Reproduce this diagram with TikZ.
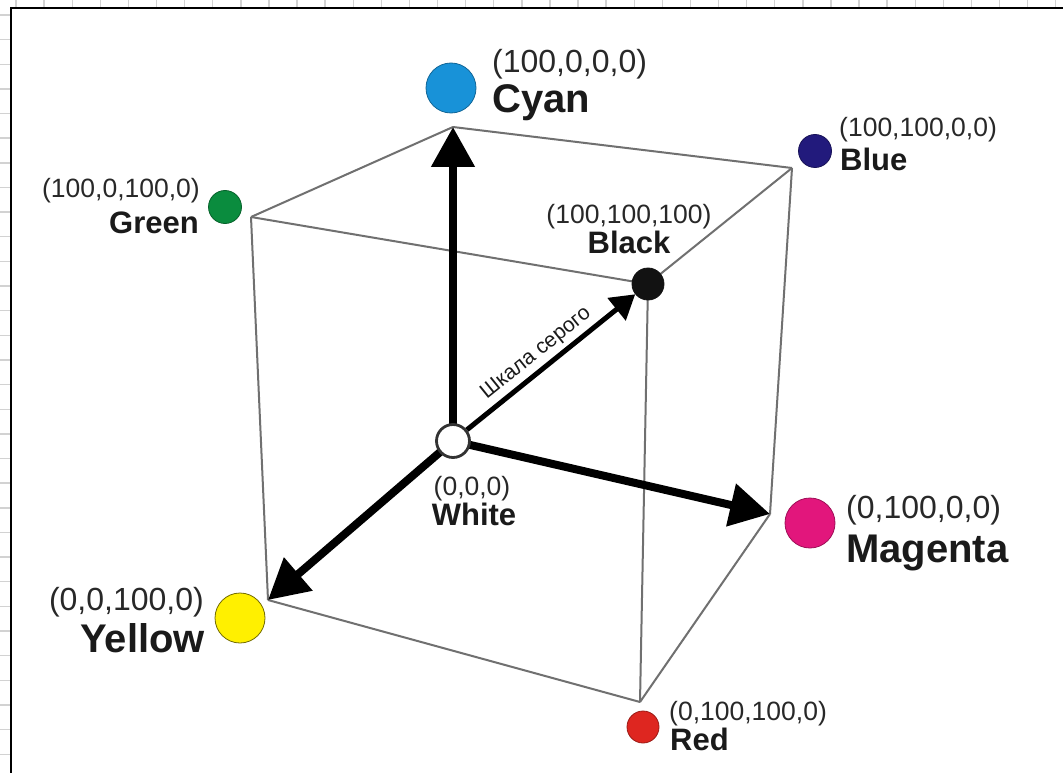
\documentclass[tikz,border=0pt]{standalone}
\usepackage{fontspec}
\setmainfont{Liberation Sans}
\usetikzlibrary{arrows.meta}
\pgfdeclarelayer{bg}
\pgfsetlayers{bg,main}

\definecolor{cyanC}{RGB}{24,146,216}
\definecolor{greenC}{RGB}{10,140,62}
\definecolor{blueC}{RGB}{34,26,124}
\definecolor{blackC}{RGB}{18,18,18}
\definecolor{yellowC}{RGB}{255,240,0}
\definecolor{magentaC}{RGB}{226,22,124}
\definecolor{redC}{RGB}{222,38,32}
\definecolor{edgegray}{RGB}{112,112,112}
\definecolor{gridgray}{RGB}{210,210,210}
\definecolor{txtdark}{RGB}{26,26,26}
\definecolor{txtcoord}{RGB}{40,40,40}

\tikzset{
  gridline/.style={draw=gridgray, line width=1.4pt},
  frameline/.style={draw=black, line width=2.5pt},
  cubeedge/.style={draw=edgegray, line width=2pt},
  bigarrow/.style={draw=black, line width=8pt,
    -{Triangle[length=40pt, width=42pt]}},
  grayarrow/.style={draw=black, line width=5pt,
    -{Triangle[length=24pt, width=28pt]}},
  dot/.style={circle, inner sep=0pt, line width=0.8pt},
  bigcrd/.style={inner sep=0pt, text=txtcoord, font=\fontsize{32}{34}\selectfont},
  bigname/.style={inner sep=0pt, text=txtdark, font=\fontsize{40}{42}\selectfont\bfseries},
  smcrd/.style={inner sep=0pt, text=txtcoord, font=\fontsize{26.5}{28}\selectfont},
  smname/.style={inner sep=0pt, text=txtdark, font=\fontsize{31}{33}\selectfont\bfseries},
  scalelabel/.style={sloped, above=4pt, inner sep=0pt, text=txtdark,
    font=\fontsize{21}{22}\selectfont},
}

\begin{document}
\begin{tikzpicture}[x=1pt, y=-1pt]
\useasboundingbox (0,0) rectangle (1063,773);

% sheet with a light grid, and the framed drawing area on it
\begin{pgfonlayer}{bg}
\begin{scope}
  \clip (0,0) rectangle (1063,773);
  \fill[white] (0,0) rectangle (1063,773);
  \foreach \i in {0,...,37} \draw[gridline] ({16+28.1*\i},0) -- ++(0,773);
  \foreach \j in {0,...,31} \draw[gridline] (0,{15+24.64*\j}) -- ++(1063,0);
  \fill[white] (10.8,7.8) rectangle (1080,790);
  \draw[frameline] (10.8,790) -- (10.8,7.8) -- (1080,7.8);
\end{scope}
\end{pgfonlayer}

% cube corners
\coordinate (vC) at (453,127);
\coordinate (vG) at (251,217);
\coordinate (vB) at (792,168);
\coordinate (vY) at (268,600);
\coordinate (vM) at (770,514);
\coordinate (vR) at (640,702);

% colour dots
\node[dot, draw=white!20!black, fill=white, line width=2.8pt, minimum size=33pt] (wht) at (453,441) {};
\node[dot, draw=blackC, fill=blackC, minimum size=32pt] (blk) at (648,284) {};
\node[dot, draw=cyanC!70!black, fill=cyanC, minimum size=50pt] (cyn) at (451,88) {};
\node[dot, draw=magentaC!70!black, fill=magentaC, minimum size=50pt] (mag) at (810,523) {};
\node[dot, draw=yellowC!45!black, fill=yellowC, minimum size=50pt] (yel) at (240,618) {};
\node[dot, draw=greenC!70!black, fill=greenC, minimum size=33pt] (grn) at (225,207) {};
\node[dot, draw=blueC!70!black, fill=blueC, minimum size=33pt] (blu) at (815,151) {};
\node[dot, draw=redC!70!black, fill=redC, minimum size=32pt] (red) at (643,727) {};

% visible cube edges and the three axes
\begin{pgfonlayer}{bg}
  \draw[cubeedge] (vC) -- (vG);
  \draw[cubeedge] (vC) -- (vB);
  \draw[cubeedge] (vG) -- (blk.center);
  \draw[cubeedge] (blk.center) -- (vB);
  \draw[cubeedge] (vG) -- (vY);
  \draw[cubeedge] (vB) -- (vM);
  \draw[cubeedge] (blk.center) -- (vR);
  \draw[cubeedge] (vY) -- (vR);
  \draw[cubeedge] (vM) -- (vR);
  \draw[bigarrow] (wht.center) -- (vC);
  \draw[bigarrow] (wht.center) -- (vM);
  \draw[bigarrow] (wht.center) -- (vY);
\end{pgfonlayer}

% grey scale diagonal
\draw[grayarrow] (wht) -- node[scalelabel, pos=0.47] (gs) {Шкала серого} (blk);

% labels
\node[bigcrd, anchor=base west] (cync) at (492,73) {(100,0,0,0)};
\node[bigname, anchor=base west] (cynn) at (492,113) {Cyan};

\node[smcrd, anchor=base west] (bluc) at (839,137) {(100,100,0,0)};
\node[smname, anchor=base west] (blun) at (840,171) {Blue};

\node[smcrd, anchor=base east] (grnc) at (200,197) {(100,0,100,0)};
\node[smname, anchor=base east] (grnn) at (199,233) {Green};

\node[smcrd, anchor=base] (blkc) at (629,223) {(100,100,100)};
\node[smname, anchor=base] (blkn) at (629,253) {Black};

\node[smcrd, anchor=base] (whtc) at (472,495) {(0,0,0)};
\node[smname, anchor=base] (whtn) at (474,525) {White};

\node[bigcrd, anchor=base west] (magc) at (846,518) {(0,100,0,0)};
\node[bigname, anchor=base west] (magn) at (846,562) {Magenta};

\node[bigcrd, anchor=base east] (yelc) at (204,610) {(0,0,100,0)};
\node[bigname, anchor=base east] (yeln) at (205,652) {Yellow};

\node[smcrd, anchor=base west] (redc) at (669,720) {(0,100,100,0)};
\node[smname, anchor=base west] (redn) at (670,750) {Red};
\end{tikzpicture}
\end{document}
